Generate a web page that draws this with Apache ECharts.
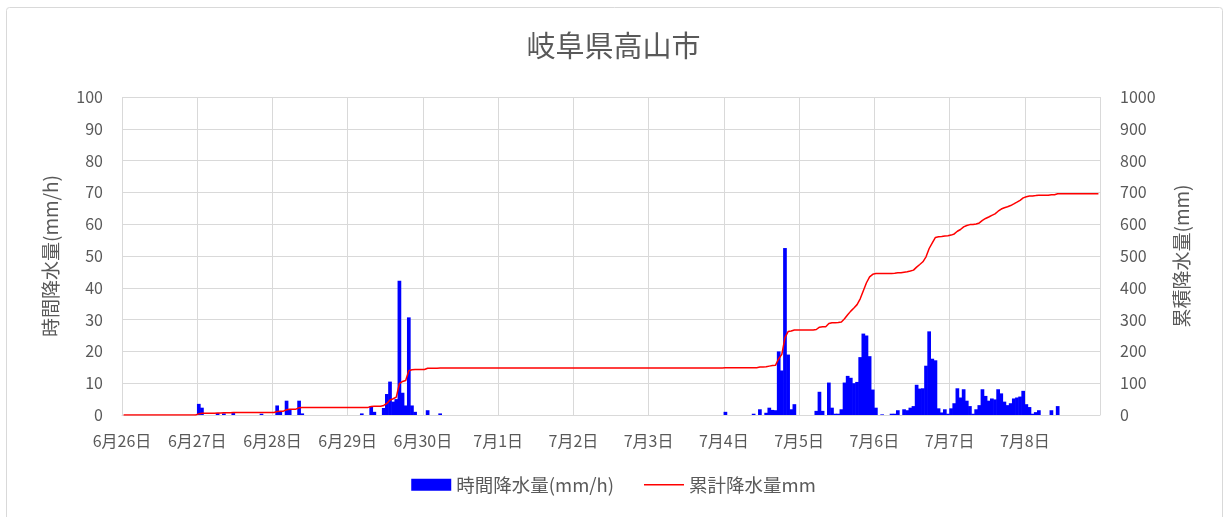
<!DOCTYPE html>
<html>
<head>
<meta charset="utf-8">
<script src="https://cdn.jsdelivr.net/npm/echarts@6/dist/echarts.min.js"></script>
<style>
html,body{margin:0;padding:0;background:#fff;}
#chart{width:1227px;height:517px;}
</style>
</head>
<body>
<div id="chart"></div>
<script>
// Tick labels: one per day (hour 0 of each day)
const dayLabels = ['6月26日','6月27日','6月28日','6月29日','6月30日','7月1日','7月2日','7月3日','7月4日','7月5日','7月6日','7月7日','7月8日'];

// Hourly precipitation (mm/h), 24 values per day, 6/26 0時 – 7/8 23時
const hourlyRain = [
  0,0,0,0,0,0,0,0,0,0,0,0,0,0,0,0,0,0,0,0,0,0,0,0,
  3.5,2.3,0,0,0,0,0.6,0,0.5,0,0,0.6,0,0,0,0,0,0,0,0,0.4,0,0,0,
  0,3.0,1.2,0,4.5,1.8,0,0,4.5,0.5,0,0,0,0,0,0,0,0,0,0,0,0,0,0,
  0,0,0,0,0.5,0,0,2.8,1.0,0,0,2.2,6.6,10.5,4.2,5.0,42.2,7.0,3.0,30.7,3.0,1.0,0,0,
  0,1.5,0,0,0,0.5,0,0,0,0,0,0,0,0,0,0,0,0,0,0,0,0,0,0,
  0,0,0,0,0,0,0,0,0,0,0,0,0,0,0,0,0,0,0,0,0,0,0,0,
  0,0,0,0,0,0,0,0,0,0,0,0,0,0,0,0,0,0,0,0,0,0,0,0,
  0,0,0,0,0,0,0,0,0,0,0,0,0,0,0,0,0,0,0,0,0,0,0,0,
  1.0,0,0,0,0,0,0,0,0,0.4,0,1.8,0,0.7,2.3,1.6,1.5,20.0,14.0,52.5,19.0,1.8,3.4,0,
  0,0,0,0,0,1.3,7.3,1.3,0,10.2,2.3,0.4,0.4,1.8,10.2,12.3,11.7,10.0,10.4,18.2,25.6,25.0,18.5,8.0,
  2.3,0,0.2,0,0,0.4,0.4,1.5,0,1.8,1.5,2.3,2.8,9.5,8.3,8.4,15.5,26.3,17.7,17.2,2.1,0.8,1.8,0.4,
  2.1,3.7,8.4,5.5,8.1,4.5,2.8,0.4,1.8,3.1,8.1,6.0,4.5,5.2,4.9,8.1,6.8,4.2,3.1,3.7,5.2,5.5,5.8,7.6,
  3.4,2.5,0.4,0.9,1.5,0,0,0,1.5,0,2.8,0,0,0,0,0,0,0,0,0,0,0,0,0
];

// Accumulated precipitation (mm), 24 values per day
const cumulativeRain = [
  0,0,0,0,0,0,0,0,0,0,0,0,0,0,0,0,0,0,0,0,0,0,0,0,
  3.5,5.8,5.8,5.8,5.8,5.8,6.4,6.4,6.9,6.9,6.9,7.5,7.5,7.5,7.5,7.5,7.5,7.5,7.5,7.5,7.9,7.9,7.9,7.9,
  7.9,10.9,12.1,12.1,16.6,18.4,18.4,18.4,22.9,23.4,23.4,23.4,23.4,23.4,23.4,23.4,23.4,23.4,23.4,23.4,23.4,23.4,23.4,23.4,
  23.4,23.4,23.4,23.4,23.9,23.9,23.9,26.7,27.7,27.7,27.7,29.9,36.5,47.0,51.2,56.2,98.4,105.4,108.4,139.1,142.1,143.1,143.1,143.1,
  143.1,147.0,147.0,147.0,147.0,147.5,147.5,147.5,147.5,147.5,147.5,147.5,147.5,147.5,147.5,147.5,147.5,147.5,147.5,147.5,147.5,147.5,147.5,147.5,
  147.5,147.5,147.5,147.5,147.5,147.5,147.5,147.5,147.5,147.5,147.5,147.5,147.5,147.5,147.5,147.5,147.5,147.5,147.5,147.5,147.5,147.5,147.5,147.5,
  147.5,147.5,147.5,147.5,147.5,147.5,147.5,147.5,147.5,147.5,147.5,147.5,147.5,147.5,147.5,147.5,147.5,147.5,147.5,147.5,147.5,147.5,147.5,147.5,
  147.5,147.5,147.5,147.5,147.5,147.5,147.5,147.5,147.5,147.5,147.5,147.5,147.5,147.5,147.5,147.5,147.5,147.5,147.5,147.5,147.5,147.5,147.5,147.5,
  148.5,148.5,148.5,148.5,148.5,148.5,148.5,148.5,148.5,148.9,148.9,150.7,150.7,151.4,153.7,155.3,156.8,176.8,190.8,243.3,262.3,264.1,267.5,267.5,
  267.5,267.5,267.5,267.5,267.5,268.8,276.1,277.4,277.4,287.6,289.9,290.3,290.7,292.5,302.7,315.0,326.7,336.7,347.1,365.3,390.9,415.9,434.4,442.4,
  444.7,444.7,444.9,444.9,444.9,445.3,445.7,447.2,447.2,449.0,450.5,452.8,455.6,465.1,473.4,481.8,497.3,523.6,541.3,558.5,560.6,561.4,563.2,563.6,
  565.7,569.4,577.8,583.3,591.4,595.9,598.7,599.1,600.9,604.0,612.1,618.1,622.6,627.8,632.7,640.8,647.6,651.8,654.9,658.6,663.8,669.3,675.1,682.7,
  686.1,688.6,689.0,689.9,691.4,691.4,691.4,691.4,692.9,692.9,695.7,695.7,695.7,695.7,695.7,695.7,695.7,695.7,695.7,695.7,695.7,695.7,695.7,695.7
];

const seriesNames = ['時間降水量(mm/h)', '累計降水量mm'];
const titleText = '岐阜県高山市';
const leftAxisName = '時間降水量(mm/h)';
const rightAxisName = '累積降水量(mm)';

const FONT = '"Noto Sans CJK JP", "Noto Sans", sans-serif';
const TXT = '#595959';
const GRID = '#d9d9d9';
const hoursTotal = dayLabels.length * 24;

const chart = echarts.init(document.getElementById('chart'), null, {renderer: 'canvas'});
chart.setOption({
  animation: false,
  backgroundColor: '#fff',
  textStyle: {fontFamily: FONT},
  graphic: [{
    type: 'rect',
    silent: true,
    shape: {x: 6.5, y: 7.5, width: 1216, height: 530, r: 3},
    style: {fill: 'none', stroke: GRID, lineWidth: 1}
  }],
  title: {
    text: titleText,
    left: 'center',
    top: 31,
    padding: 0,
    textStyle: {fontFamily: FONT, fontSize: 29, fontWeight: 'normal', color: TXT}
  },
  legend: {
    bottom: 18,
    left: 'center',
    itemGap: 30,
    itemWidth: 40,
    itemHeight: 12,
    textStyle: {fontFamily: FONT, fontSize: 18.5, color: TXT},
    data: [
      {name: seriesNames[0], icon: 'rect'},
      {name: seriesNames[1], icon: 'path://M0,0 H40 V1.5 H0 Z', itemStyle: {color: '#ff0000'}}
    ]
  },
  grid: {left: 122, right: 127, top: 97, bottom: 102, containLabel: false},
  xAxis: {
    type: 'value',
    min: 0,
    max: hoursTotal,
    interval: 24,
    axisLine: {show: true, lineStyle: {color: GRID}},
    axisTick: {show: false},
    splitLine: {show: true, lineStyle: {color: GRID, width: 1}},
    axisLabel: {
      color: TXT, fontSize: 16, fontFamily: FONT, margin: 18,
      formatter: v => dayLabels[Math.round(v / 24)] || ''
    }
  },
  yAxis: [{
    type: 'value',
    min: 0, max: 100, interval: 10,
    name: leftAxisName,
    nameLocation: 'middle',
    nameRotate: 90,
    nameGap: 62,
    nameTextStyle: {color: TXT, fontSize: 19, fontFamily: FONT},
    axisLine: {show: false},
    axisTick: {show: false},
    splitLine: {show: true, lineStyle: {color: GRID, width: 1}},
    axisLabel: {color: TXT, fontSize: 16, fontFamily: FONT, margin: 19}
  }, {
    type: 'value',
    min: 0, max: 1000, interval: 100,
    name: rightAxisName,
    nameLocation: 'middle',
    nameRotate: 90,
    nameGap: 72,
    nameTextStyle: {color: TXT, fontSize: 19, fontFamily: FONT},
    axisLine: {show: false},
    axisTick: {show: false},
    splitLine: {show: false},
    axisLabel: {color: TXT, fontSize: 16, fontFamily: FONT, margin: 20, formatter: v => String(v)}
  }],
  series: [{
    name: seriesNames[0],
    type: 'bar',
    xAxisIndex: 0,
    yAxisIndex: 0,
    barWidth: 3.7,
    itemStyle: {color: '#0000ff'},
    data: hourlyRain.map((v, i) => [i + 0.5, v])
  }, {
    name: seriesNames[1],
    type: 'line',
    xAxisIndex: 0,
    yAxisIndex: 1,
    symbol: 'none',
    showSymbol: false,
    lineStyle: {color: '#ff0000', width: 1.5},
    itemStyle: {color: '#ff0000'},
    data: cumulativeRain.map((v, i) => [i + 0.5, v])
  }]
});
</script>
</body>
</html>
